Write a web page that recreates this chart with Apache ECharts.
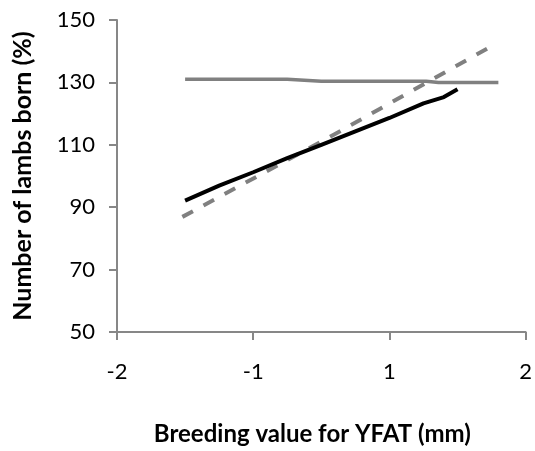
<!DOCTYPE html>
<html>
<head>
<meta charset="utf-8">
<script src="https://cdn.jsdelivr.net/npm/echarts@6/dist/echarts.min.js"></script>
<style>
  html, body { margin: 0; padding: 0; background: #fff; }
  #chart { width: 535px; height: 451px; }
</style>
</head>
<body>
<div id="chart"></div>
<script>
// x positions are in tick slots: slot 0 = "-2", 1 = "-1", 2 = "1", 3 = "2"
const xTickLabels = ['-2', '-1', '1', '2'];

const flatX = [0.5, 1.0, 1.25, 1.5, 2.0, 2.27, 2.36, 2.5, 2.8];
const flatY = [131, 131, 131, 130.4, 130.4, 130.4, 130, 130, 130];

const blackX = [0.5, 0.75, 1.0, 1.25, 1.5, 1.75, 2.0, 2.25, 2.4, 2.5];
const blackY = [92.1, 96.9, 101.2, 105.7, 110.0, 114.3, 118.6, 123.3, 125.3, 127.8];

const dashX = [0.48, 1.5, 2.72];
const dashY = [86.9, 111, 140.9];

function pairs(xs, ys) {
  return xs.map((x, i) => [x, ys[i]]);
}

const chart = echarts.init(document.getElementById('chart'));
const font = 'Lato, "Open Sans", sans-serif';
const axisGray = '#878787';

const option = {
  animation: false,
  backgroundColor: '#fff',
  grid: {
    left: 117,
    right: 7,
    top: 20,
    bottom: 118
  },
  xAxis: {
    type: 'value',
    min: 0,
    max: 3,
    interval: 1,
    name: 'Breeding value for YFAT (mm)',
    nameLocation: 'middle',
    nameGap: 90,
    nameTextStyle: {
      fontFamily: font,
      fontWeight: 'bold',
      fontSize: 24,
      color: '#000',
      padding: [0, 18, 0, 0]
    },
    axisLine: { lineStyle: { color: axisGray, width: 2 } },
    axisTick: { show: true, length: 8, lineStyle: { color: axisGray, width: 2 } },
    splitLine: { show: false },
    axisLabel: {
      margin: 29,
      fontFamily: font,
      fontSize: 22,
      color: '#000',
      formatter: function (v) {
        return xTickLabels[Math.round(v)];
      }
    }
  },
  yAxis: {
    type: 'value',
    min: 50,
    max: 150,
    interval: 20,
    name: 'Number of lambs born (%)',
    nameLocation: 'middle',
    nameGap: 82,
    nameTextStyle: {
      fontFamily: font,
      fontWeight: 'bold',
      fontSize: 25,
      color: '#000'
    },
    axisLine: { show: true, lineStyle: { color: axisGray, width: 2 } },
    axisTick: { show: true, length: 8, lineStyle: { color: axisGray, width: 2 } },
    splitLine: { show: false },
    axisLabel: {
      margin: 22,
      fontFamily: font,
      fontSize: 22,
      color: '#000'
    }
  },
  series: [
    {
      type: 'line',
      data: pairs(flatX, flatY),
      symbol: 'none',
      lineStyle: { color: '#808080', width: 3.5 }
    },
    {
      type: 'line',
      data: pairs(dashX, dashY),
      symbol: 'none',
      lineStyle: { color: '#808080', width: 4, type: [12, 12] }
    },
    {
      type: 'line',
      data: pairs(blackX, blackY),
      symbol: 'none',
      lineStyle: { color: '#000', width: 4 }
    }
  ]
};
chart.setOption(option);
</script>
</body>
</html>
